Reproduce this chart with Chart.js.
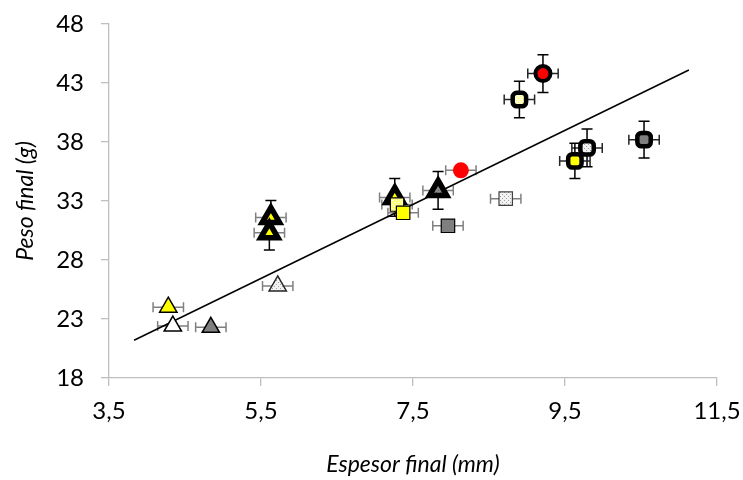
<!DOCTYPE html>
<html>
<head>
<meta charset="utf-8">
<script src="https://cdn.jsdelivr.net/npm/chart.js@4.4.1/dist/chart.umd.min.js"></script>
<style>
  html, body { margin: 0; padding: 0; background: #fff; }
  #wrap { width: 743px; height: 480px; }
</style>
</head>
<body>
<div id="wrap"><canvas id="grafico"></canvas></div>
<script>
// ticks de los ejes
const ticksEspesor = [3.5, 5.5, 7.5, 9.5, 11.5];
const ticksPeso = [18, 23, 28, 33, 38, 43, 48];

// una entrada por muestra: espesor final (mm), peso final (g) y desviaciones
const espesor    = [4.28, 4.34, 4.84, 5.72, 5.63, 5.61, 7.26, 7.83, 7.29, 7.37, 7.96, 8.13, 8.72, 8.90, 9.21, 9.79, 9.63, 10.54];
const peso       = [24.0, 22.4, 22.3, 25.8, 31.6, 30.3, 33.3, 33.9, 32.7, 32.0, 30.9, 35.6, 33.2, 41.6, 43.8, 37.5, 36.4, 38.2];
const errEspesor = [0.2, 0.2, 0.2, 0.2, 0.2, 0.2, 0.2, 0.2, 0.2, 0.2, 0.2, 0.2, 0.2, 0.2, 0.2, 0.2, 0.2, 0.2];
const errPeso    = [0, 0, 0, 0, 1.45, 1.45, 1.6, 1.6, 0, 0, 0, 0, 0, 1.55, 1.6, 1.6, 1.5, 1.55];

// recta de tendencia (extremos)
const tendEspesor = [3.83, 11.13];
const tendPeso = [21.2, 44.1];

const ctx = document.getElementById('grafico').getContext('2d');

// tramas para los rellenos punteados
function trama(fondo, punto) {
  const c = document.createElement('canvas');
  c.width = 4; c.height = 4;
  const g = c.getContext('2d');
  g.fillStyle = fondo;
  g.fillRect(0, 0, 4, 4);
  g.fillStyle = punto;
  g.fillRect(0, 0, 1, 1);
  g.fillRect(2, 2, 1, 1);
  return ctx.createPattern(c, 'repeat');
}
const tramaGris = trama('#f2f2f2', '#a0a0a0');
const tramaAmarilla = trama('#ffff80', '#ffffff');
const tramaCrema = trama('#ffffcc', '#ffff66');
const tramaOscura = trama('#8c8c8c', '#5a5a5a');

// estilo de cada marcador (mismo orden que los datos)
const triFino = (bg, borde) => ({ pointStyle: 'triangle', r: 10, bg: bg, borde: borde || '#000', bw: 1.5, colX: '#808080' });
const triGrueso = (bg) => ({ pointStyle: 'triangle', r: 10, bg: bg, borde: '#000', bw: 5.5, colX: '#808080' });
const cuadFino = (bg, borde) => ({ pointStyle: 'rect', r: 9.5, bg: bg, borde: borde || '#000', bw: 1.2, colX: '#808080' });
const cuadGrueso = (bg) => ({ pointStyle: 'rectRounded', r: 7.8, bg: bg, borde: '#000', bw: 4.5, colX: '#262626' });

const marcadores = [
  triFino('#ffff00'),
  triFino('#ffffff'),
  triFino('#7f7f7f'),
  triFino(tramaGris, '#262626'),
  triGrueso('#ffff00'),
  triGrueso('#ffff00'),
  triGrueso('#ffff00'),
  triGrueso(tramaOscura),
  cuadFino(tramaAmarilla),
  cuadFino('#ffff00'),
  cuadFino('#7f7f7f'),
  { pointStyle: 'circle', r: 8, bg: '#ff0000', borde: '#ff0000', bw: 0, colX: '#808080' },
  cuadFino(tramaGris, '#404040'),
  cuadGrueso(tramaCrema),
  { pointStyle: 'circle', r: 7.5, bg: '#ff0000', borde: '#000', bw: 4, colX: '#262626' },
  cuadGrueso(tramaGris),
  cuadGrueso('#ffff00'),
  cuadGrueso('#7f7f7f')
];

// cada muestra es un dataset; las últimas quedan encima
const datasets = espesor.map((x, i) => {
  const m = marcadores[i];
  return {
    type: 'scatter',
    data: [{ x: x, y: peso[i] }],
    pointStyle: m.pointStyle,
    pointRadius: m.r,
    pointBackgroundColor: m.bg,
    pointBorderColor: m.borde,
    pointBorderWidth: m.bw,
    order: -i
  };
});

datasets.push({
  type: 'line',
  data: tendEspesor.map((x, i) => ({ x: x, y: tendPeso[i] })),
  borderColor: '#000',
  borderWidth: 1.5,
  pointRadius: 0,
  fill: false,
  order: 100
});

// barras de error, dibujadas antes de los marcadores
const barrasError = {
  id: 'barrasError',
  beforeDatasetsDraw(chart) {
    const c = chart.ctx;
    const sx = chart.scales.x, sy = chart.scales.y;
    c.save();
    espesor.forEach((x, i) => {
      const px = sx.getPixelForValue(x);
      const py = sy.getPixelForValue(peso[i]);
      if (errEspesor[i] > 0) {
        const x0 = sx.getPixelForValue(x - errEspesor[i]);
        const x1 = sx.getPixelForValue(x + errEspesor[i]);
        c.strokeStyle = marcadores[i].colX;
        c.lineWidth = 1.5;
        c.beginPath();
        c.moveTo(x0, py); c.lineTo(x1, py);
        c.moveTo(x0, py - 5); c.lineTo(x0, py + 5);
        c.moveTo(x1, py - 5); c.lineTo(x1, py + 5);
        c.stroke();
      }
      if (errPeso[i] > 0) {
        const y0 = sy.getPixelForValue(peso[i] - errPeso[i]);
        const y1 = sy.getPixelForValue(peso[i] + errPeso[i]);
        c.strokeStyle = '#000';
        c.lineWidth = 1.5;
        c.beginPath();
        c.moveTo(px, y0); c.lineTo(px, y1);
        c.moveTo(px - 5.5, y0); c.lineTo(px + 5.5, y0);
        c.moveTo(px - 5.5, y1); c.lineTo(px + 5.5, y1);
        c.stroke();
      }
    });
    c.restore();
  }
};

const fuente = { family: 'Lato', size: 24 };
const fuenteTitulo = { family: 'Lato', size: 23, style: 'italic' };
const fmt = v => String(v).replace('.', ',');

new Chart(ctx, {
  data: { datasets: datasets },
  plugins: [barrasError],
  options: {
    responsive: true,
    maintainAspectRatio: false,
    animation: false,
    layout: { padding: { top: 24, right: 26, left: 0, bottom: 0 } },
    plugins: { legend: { display: false }, tooltip: { enabled: false } },
    scales: {
      x: {
        type: 'linear',
        min: 3.5,
        max: 11.5,
        afterBuildTicks: s => { s.ticks = ticksEspesor.map(v => ({ value: v })); },
        // alto fijo y sin margen extra por las etiquetas de los extremos
        afterFit: s => { s.height = 102; s.paddingLeft = 0; s.paddingRight = 0; },
        grid: { drawOnChartArea: false, drawTicks: true, tickLength: 8, color: '#bfbfbf', lineWidth: 1.3 },
        border: { color: '#bfbfbf', width: 1.3 },
        ticks: { padding: 11, color: '#000', font: fuente, callback: fmt, maxRotation: 0 },
        title: { display: true, text: 'Espesor final (mm)', color: '#000', font: fuenteTitulo, padding: { top: 0, bottom: 2 } }
      },
      y: {
        type: 'linear',
        min: 18,
        max: 48,
        afterBuildTicks: s => { s.ticks = ticksPeso.map(v => ({ value: v })); },
        afterFit: s => { s.width = 109; s.paddingTop = 0; s.paddingBottom = 0; },
        grid: { drawOnChartArea: false, drawTicks: true, tickLength: 8, color: '#bfbfbf', lineWidth: 1.3 },
        border: { color: '#bfbfbf', width: 1.3 },
        ticks: { padding: 17, color: '#000', font: fuente, callback: fmt },
        title: { display: true, text: 'Peso final (g)', color: '#000', font: fuenteTitulo, padding: { top: 12, bottom: 0 } }
      }
    }
  }
});
</script>
</body>
</html>
